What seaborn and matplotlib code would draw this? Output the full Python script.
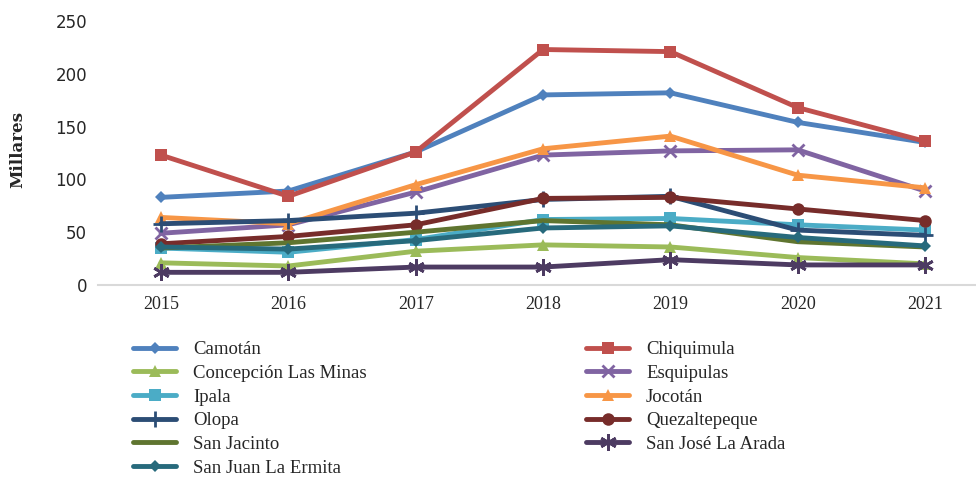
import pandas as pd
import matplotlib.pyplot as plt
import seaborn as sns

# Datos (millares)
anios = [2015, 2016, 2017, 2018, 2019, 2020, 2021]
municipios = ['Camotán', 'Chiquimula', 'Concepción Las Minas', 'Esquipulas',
              'Ipala', 'Jocotán', 'Olopa', 'Quezaltepeque', 'San Jacinto',
              'San José La Arada', 'San Juan La Ermita']

camotan = [83, 89, 126, 180, 182, 154, 135]
chiquimula = [123, 84, 126, 223, 221, 168, 136]
concepcion = [21, 18, 32, 38, 36, 26, 20]
esquipulas = [49, 57, 88, 123, 127, 128, 89]
ipala = [35, 31, 43, 62, 63, 57, 52]
jocotan = [64, 58, 95, 129, 141, 104, 92]
olopa = [58, 61, 68, 81, 84, 52, 47]
quezaltepeque = [39, 46, 57, 82, 83, 72, 61]
san_jacinto = [35, 40, 50, 61, 57, 41, 36]
san_jose = [12, 12, 17, 17, 24, 19, 19]
san_juan = [36, 34, 42, 54, 56, 45, 37]

valores = [camotan, chiquimula, concepcion, esquipulas, ipala, jocotan,
           olopa, quezaltepeque, san_jacinto, san_jose, san_juan]

colores = ['#4F81BD', '#C0504D', '#9BBB59', '#8064A2', '#4BACC6', '#F79646',
           '#2C4D75', '#772C2A', '#5F7530', '#4D3B62', '#276A7C']
marcadores = ['D', 's', '^', 'x', 's', '^', '+', 'o', None, (6, 2, 0), 'D']
tamanos = [6, 8, 8, 9, 8, 8, 12, 9, 0, 12, 6]

# Tabla larga
filas = []
for nombre, serie in zip(municipios, valores):
    for anio, v in zip(anios, serie):
        filas.append({'anio': anio, 'municipio': nombre, 'valor': v})
df = pd.DataFrame(filas)

sns.set_style('white')
fig = plt.figure(figsize=(9.76, 4.79), dpi=100)
ax = fig.add_axes([98 / 976, 1 - 285 / 479, (976 - 98) / 976, (285 - 21) / 479])

for i, nombre in enumerate(municipios):
    sub = df[df['municipio'] == nombre]
    lineal = marcadores[i] in ('x', '+') or isinstance(marcadores[i], tuple)
    sns.lineplot(data=sub, x='anio', y='valor', ax=ax, color=colores[i],
                 linewidth=3.5, marker=marcadores[i], markersize=tamanos[i],
                 markeredgewidth=2 if lineal else 0,
                 markeredgecolor=colores[i], label=nombre, zorder=2 + i)

ax.set_xlim(2015 - 0.495, 2021.4)
ax.set_ylim(0, 250)
ax.set_xticks(anios)
ax.set_xticklabels([str(a) for a in anios], fontfamily='Liberation Serif', fontsize=13)
ax.set_yticks([0, 50, 100, 150, 200, 250])
ax.set_yticklabels(['0', '50', '100', '150', '200', '250'], fontfamily='DejaVu Sans',
                   fontsize=12, color='#262626')
ax.tick_params(axis='both', length=0, pad=8)
ax.set_xlabel('')
ax.set_ylabel('')
fig.text(18 / 976, 1 - 150 / 479, 'Millares', rotation=90, ha='center', va='center',
         fontfamily='DejaVu Serif', fontweight='bold', fontsize=12)

for lado in ['top', 'right', 'left']:
    ax.spines[lado].set_visible(False)
ax.spines['bottom'].set_color('#d9d9d9')
ax.spines['bottom'].set_linewidth(1.5)

# Leyenda en dos columnas ordenada por filas
handles, labels = ax.get_legend_handles_labels()
if ax.get_legend():
    ax.get_legend().remove()
orden = [0, 2, 4, 6, 8, 10, 1, 3, 5, 7, 9]
fig.legend([handles[k] for k in orden], [labels[k] for k in orden],
           loc='upper left', bbox_to_anchor=(133 / 976, 1 - 341 / 479), ncol=2,
           frameon=False, prop={'family': 'Liberation Serif', 'size': 13.5},
           handlelength=2.3, columnspacing=11.7, labelspacing=0.35, handletextpad=0.9,
           borderaxespad=0, borderpad=0)

fig.savefig('out.png', dpi=100)
